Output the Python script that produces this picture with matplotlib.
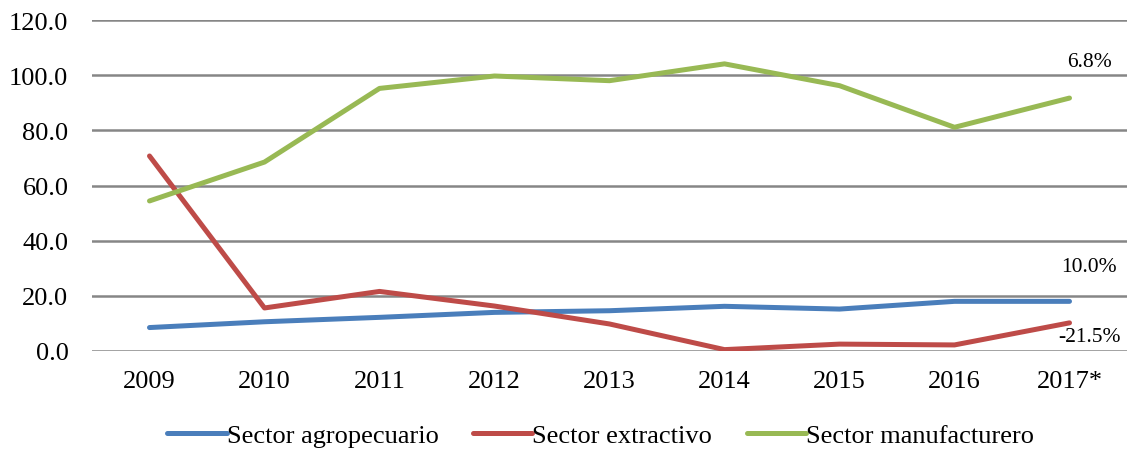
import matplotlib
matplotlib.use("Agg")
import matplotlib.pyplot as plt

years = ["2009", "2010", "2011", "2012", "2013", "2014", "2015", "2016", "2017*"]
agropecuario = [8.5, 10.6, 12.2, 14.0, 14.6, 16.2, 15.2, 18.0, 18.0]
extractivo = [70.7, 15.6, 21.6, 16.3, 9.8, 0.5, 2.5, 2.2, 10.2]
manufacturero = [54.4, 68.5, 95.2, 99.7, 98.0, 104.1, 96.2, 81.1, 91.7]
series_names = ["Sector agropecuario", "Sector extractivo", "Sector manufacturero"]
end_labels = ["6.8%", "10.0%", "-21.5%"]
end_label_y = [105.0, 30.5, 5.1]
yticks = [0, 20, 40, 60, 80, 100, 120]

plt.rcParams["font.family"] = ["Liberation Serif", "DejaVu Serif"]

fig = plt.figure(figsize=(11.27, 4.52), dpi=100)
ax = fig.add_axes([92/1127, 1 - 352/452, 1 - 92/1127, 331/452])

colors = ["#4A7EBB", "#BE4B48", "#98B954"]
x = list(range(len(years)))
for vals, name, c in zip([agropecuario, extractivo, manufacturero], series_names, colors):
    ax.plot(x, vals, color=c, lw=3.6, label=name, solid_capstyle="round", solid_joinstyle="round", zorder=3)

ax.set_ylim(0, 120)
ax.set_xlim(-0.5, len(years) - 0.5)
ax.set_yticks(yticks)
ax.set_yticklabels([f"{v:.1f}" for v in yticks])
ax.set_xticks(x)
ax.set_xticklabels(years)
ax.tick_params(axis="both", length=0, labelsize=19, colors="black")
ax.tick_params(axis="y", pad=17)
ax.tick_params(axis="x", pad=14)
ax.grid(axis="y", color="#868686", lw=1.8, zorder=1)
for s in ax.spines.values():
    s.set_visible(False)

for lab, yv in zip(end_labels, end_label_y):
    ax.text(len(years) - 1 + 0.17, yv, lab, ha="center", va="center", fontsize=15.5)

leg = fig.legend(loc="center", bbox_to_anchor=(0.533, 0.034), ncol=3, frameon=False,
                 fontsize=19, handlelength=2.25, handletextpad=0.0, columnspacing=1.3,
                 borderpad=0.1)

fig.savefig("out.png", dpi=100)
